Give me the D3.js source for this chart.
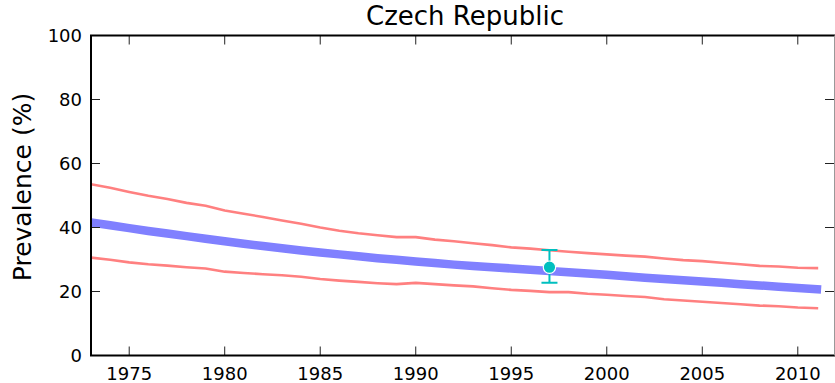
<!DOCTYPE html>
<html>
<head>
<meta charset="utf-8">
<script src="https://cdn.jsdelivr.net/npm/d3@7"></script>
<style>
  html, body { margin: 0; padding: 0; background: #fff; }
  svg { display: block; font-family: "DejaVu Sans", sans-serif; }
</style>
</head>
<body>
<svg id="chart" width="835" height="383"></svg>
<script>
// Modelled prevalence for the Czech Republic, 1973-2011
const years = d3.range(1973, 2012);
const meanPrev = [41.6, 40.7, 39.8, 38.9, 38.1, 37.3, 36.5, 35.7, 34.9, 34.2,
                  33.5, 32.8, 32.2, 31.6, 31.0, 30.4, 29.9, 29.4, 28.9, 28.4,
                  28.0, 27.6, 27.2, 26.8, 26.4, 26.0, 25.6, 25.2, 24.8, 24.3,
                  23.9, 23.5, 23.1, 22.7, 22.3, 21.9, 21.5, 21.1, 20.7];
const upperPrev = [53.5, 52.4, 51.1, 49.9, 48.9, 47.7, 46.8, 45.3, 44.3, 43.3,
                   42.2, 41.2, 40.0, 39.0, 38.2, 37.6, 37.0, 37.0, 36.2, 35.7,
                   35.1, 34.5, 33.8, 33.4, 32.9, 32.4, 32.0, 31.6, 31.2, 30.9,
                   30.3, 29.8, 29.5, 29.0, 28.5, 28.0, 27.8, 27.4, 27.3];
const lowerPrev = [30.6, 29.9, 29.1, 28.5, 28.1, 27.6, 27.2, 26.2, 25.8, 25.4,
                   25.1, 24.6, 23.9, 23.4, 23.0, 22.6, 22.3, 22.7, 22.3, 21.9,
                   21.6, 21.0, 20.5, 20.2, 19.8, 19.8, 19.3, 19.0, 18.6, 18.3,
                   17.6, 17.2, 16.8, 16.4, 16.0, 15.6, 15.4, 15.0, 14.8];

// Survey observation with its interval
const obsYear = [1997];
const obsValue = [27.6];
const obsLow = [22.7];
const obsHigh = [33.0];

const xTicks = [1975, 1980, 1985, 1990, 1995, 2000, 2005, 2010];
const yTicks = [0, 20, 40, 60, 80, 100];

const plotLeft = 91, plotRight = 836, plotTop = 35.5, plotBottom = 355.5;
const svg = d3.select("#chart");

const x = d3.scaleLinear().domain([1973, 2012]).range([plotLeft, plotRight]);
const y = d3.scaleLinear().domain([0, 100]).range([plotBottom, plotTop]);

svg.append("defs").append("clipPath").attr("id", "plotClip")
  .append("rect").attr("x", plotLeft).attr("y", plotTop)
  .attr("width", plotRight - plotLeft).attr("height", plotBottom - plotTop);

const plot = svg.append("g").attr("clip-path", "url(#plotClip)");

const line = d3.line().x(d => x(d[0])).y(d => y(d[1]));

plot.append("path")
  .datum(years.map((yr, i) => [yr, meanPrev[i]]))
  .attr("d", line)
  .attr("fill", "none")
  .attr("stroke", "#8080ff")
  .attr("stroke-width", 8.5)
  .attr("stroke-linecap", "square");

[upperPrev, lowerPrev].forEach(series => {
  plot.append("path")
    .datum(years.map((yr, i) => [yr, series[i]]))
    .attr("d", line)
    .attr("fill", "none")
    .attr("stroke", "#ff8080")
    .attr("stroke-width", 2.6)
    .attr("stroke-linejoin", "round")
    .attr("stroke-linecap", "square");
});

// Observation: error bar, caps and marker
const obs = plot.selectAll("g.obs").data(obsYear.map((yr, i) => ({
  yr, v: obsValue[i], lo: obsLow[i], hi: obsHigh[i]
}))).join("g").attr("class", "obs");

obs.append("line")
  .attr("x1", d => x(d.yr)).attr("x2", d => x(d.yr))
  .attr("y1", d => y(d.lo)).attr("y2", d => y(d.hi))
  .attr("stroke", "#00bfbf").attr("stroke-width", 2);
obs.selectAll("line.cap").data(d => [[d.yr, d.lo], [d.yr, d.hi]]).join("line")
  .attr("class", "cap")
  .attr("x1", d => x(d[0]) - 8).attr("x2", d => x(d[0]) + 8)
  .attr("y1", d => y(d[1])).attr("y2", d => y(d[1]))
  .attr("stroke", "#00bfbf").attr("stroke-width", 2);
obs.append("circle")
  .attr("cx", d => x(d.yr)).attr("cy", d => y(d.v))
  .attr("r", 6.2)
  .attr("fill", "#00bfbf")
  .attr("stroke", "#ffffff").attr("stroke-width", 1.2);

// Axes: ticks point inward on all four sides
const tickLen = 9;
const axes = svg.append("g");

axes.selectAll("line.xb").data(xTicks).join("line")
  .attr("x1", d => x(d)).attr("x2", d => x(d))
  .attr("y1", plotBottom).attr("y2", plotBottom - tickLen)
  .attr("stroke", "#222").attr("stroke-width", 1);
axes.selectAll("line.xt").data(xTicks).join("line")
  .attr("x1", d => x(d)).attr("x2", d => x(d))
  .attr("y1", plotTop).attr("y2", plotTop + tickLen)
  .attr("stroke", "#222").attr("stroke-width", 1);
axes.selectAll("line.yl").data(yTicks).join("line")
  .attr("x1", plotLeft).attr("x2", plotLeft + tickLen)
  .attr("y1", d => y(d)).attr("y2", d => y(d))
  .attr("stroke", "#222").attr("stroke-width", 1);
axes.selectAll("line.yr").data(yTicks).join("line")
  .attr("x1", plotRight - 2).attr("x2", plotRight - 2 - tickLen)
  .attr("y1", d => y(d)).attr("y2", d => y(d))
  .attr("stroke", "#222").attr("stroke-width", 1);

// Frame
axes.append("path")
  .attr("d", `M${plotLeft},${plotBottom}V${plotTop}H${plotRight}`)
  .attr("fill", "none").attr("stroke", "#000").attr("stroke-width", 2);
axes.append("line")
  .attr("x1", plotLeft - 1).attr("x2", plotRight).attr("y1", plotBottom).attr("y2", plotBottom)
  .attr("stroke", "#000").attr("stroke-width", 2);
axes.append("line")
  .attr("x1", 834.5).attr("x2", 834.5).attr("y1", plotTop).attr("y2", plotBottom)
  .attr("stroke", "#999").attr("stroke-width", 1);

// Tick labels
svg.selectAll("text.xl").data(xTicks).join("text")
  .attr("x", d => x(d)).attr("y", 380)
  .attr("text-anchor", "middle")
  .attr("font-size", 18)
  .text(d => d);
svg.selectAll("text.yl").data(yTicks).join("text")
  .attr("x", 82).attr("y", d => y(d) + 6.5)
  .attr("text-anchor", "end")
  .attr("font-size", 18)
  .text(d => d);

// Title and axis label
svg.append("text")
  .attr("x", 465).attr("y", 25)
  .attr("text-anchor", "middle")
  .attr("font-size", 26)
  .text("Czech Republic");
svg.append("text")
  .attr("transform", "translate(31,187) rotate(-90)")
  .attr("text-anchor", "middle")
  .attr("font-size", 25)
  .text("Prevalence (%)");
</script>
</body>
</html>
